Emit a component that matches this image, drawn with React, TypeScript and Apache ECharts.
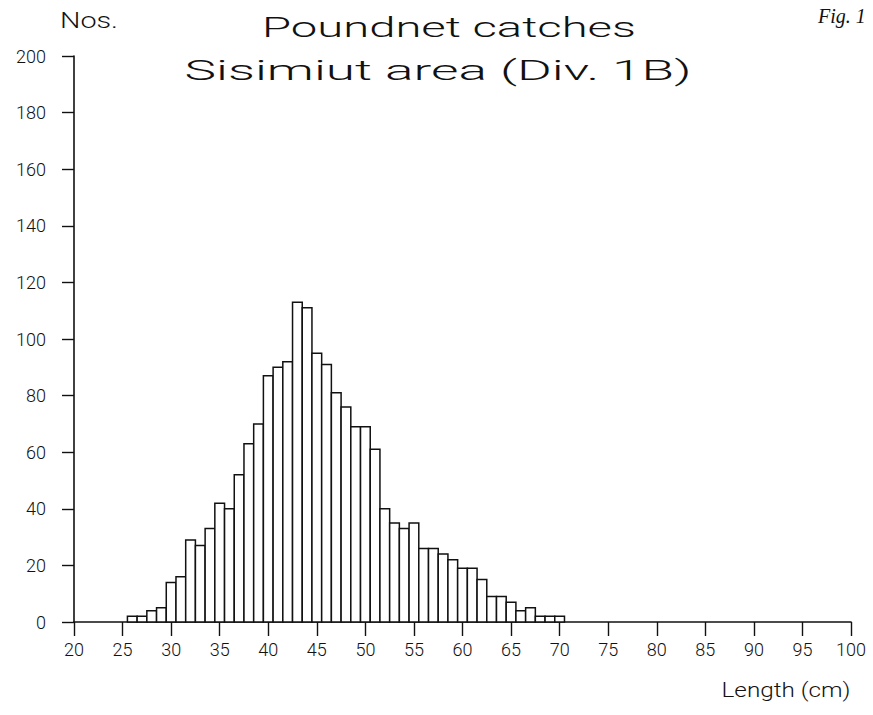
import React, { useEffect, useRef } from "react";
import * as echarts from "echarts";

const lengths = [26, 27, 28, 29, 30, 31, 32, 33, 34, 35, 36, 37, 38, 39, 40, 41, 42, 43, 44, 45, 46, 47, 48, 49, 50, 51, 52, 53, 54, 55, 56, 57, 58, 59, 60, 61, 62, 63, 64, 65, 66, 67, 68, 69, 70];
const counts = [2, 2, 4, 5, 14, 16, 29, 27, 33, 42, 40, 52, 63, 70, 87, 90, 92, 113, 111, 95, 91, 81, 76, 69, 69, 61, 40, 35, 33, 35, 26, 26, 24, 22, 19, 19, 15, 9, 9, 7, 4, 5, 2, 2, 2];

const titleLine1 = "Poundnet catches";
const titleLine2 = "Sisimiut area (Div. 1B)";
const yName = "Nos.";
const xName = "Length (cm)";
const figLabel = "Fig. 1";

const FONT = "Roboto, 'Noto Sans', sans-serif";

function fitScale(text: string, font: string, target: number): number {
  const c = document.createElement("canvas").getContext("2d");
  if (!c) return 1;
  c.font = font;
  const w = c.measureText(text).width;
  return w > 0 ? target / w : 1;
}

export default function App() {
  const ref = useRef<HTMLDivElement>(null);
  useEffect(() => {
    document.body.style.margin = "0";
    if (!ref.current) return;
    const chart = echarts.init(ref.current, null, { renderer: "svg" });
    const data = lengths.map((l, i) => [l, counts[i]]);
    const tFont = `300 28px ${FONT}`;
    const nFont = `300 22px ${FONT}`;
    const lFont = `300 20px ${FONT}`;
    chart.setOption({
      animation: false,
      backgroundColor: "#ffffff",
      grid: { left: 74, right: 22, top: 56, bottom: 93, containLabel: false },
      xAxis: {
        type: "value",
        min: 20,
        max: 100,
        interval: 5,
        axisLine: { show: true, onZero: true, lineStyle: { color: "#111", width: 1.6 } },
        axisTick: { show: true, length: 14, lineStyle: { color: "#111", width: 1.4 } },
        splitLine: { show: false },
        axisLabel: { color: "#111", fontFamily: FONT, fontWeight: 300, fontSize: 18, margin: 18 },
      },
      yAxis: {
        type: "value",
        min: 0,
        max: 200,
        interval: 20,
        axisLine: { show: true, lineStyle: { color: "#111", width: 1.6 } },
        axisTick: { show: true, length: 12, lineStyle: { color: "#111", width: 1.4 } },
        splitLine: { show: false },
        axisLabel: { color: "#111", fontFamily: FONT, fontWeight: 300, fontSize: 18, margin: 28 },
      },
      series: [
        {
          type: "custom",
          data,
          encode: { x: 0, y: 1 },
          renderItem: (params: any, api: any) => {
            const x = api.value(0);
            const y = api.value(1);
            const p0 = api.coord([x - 0.5, 0]);
            const p1 = api.coord([x + 0.5, y]);
            return {
              type: "rect",
              shape: { x: p0[0], y: p1[1], width: p1[0] - p0[0], height: p0[1] - p1[1] },
              style: { fill: "#ffffff", stroke: "#111", lineWidth: 1.5 },
            };
          },
        },
      ],
      graphic: [
        {
          type: "text",
          x: 449,
          y: 27,
          scaleX: fitScale(titleLine1, tFont, 374),
          style: { text: titleLine1, font: tFont, fill: "#111", textAlign: "center", textVerticalAlign: "middle" },
        },
        {
          type: "text",
          x: 438,
          y: 70,
          scaleX: fitScale(titleLine2, tFont, 507),
          style: { text: titleLine2, font: tFont, fill: "#111", textAlign: "center", textVerticalAlign: "middle" },
        },
        {
          type: "text",
          x: 89,
          y: 20,
          scaleX: fitScale(yName, nFont, 58),
          style: { text: yName, font: nFont, fill: "#111", textAlign: "center", textVerticalAlign: "middle" },
        },
        {
          type: "text",
          x: 786,
          y: 690,
          scaleX: fitScale(xName, lFont, 129),
          style: { text: xName, font: lFont, fill: "#111", textAlign: "center", textVerticalAlign: "middle" },
        },
        {
          type: "text",
          x: 818,
          y: 16,
          style: { text: figLabel, font: `italic 20px 'Liberation Serif', serif`, fill: "#111", textAlign: "left", textVerticalAlign: "middle" },
        },
      ],
    });
    return () => chart.dispose();
  }, []);
  return <div ref={ref} style={{ width: 873, height: 715 }} />;
}
